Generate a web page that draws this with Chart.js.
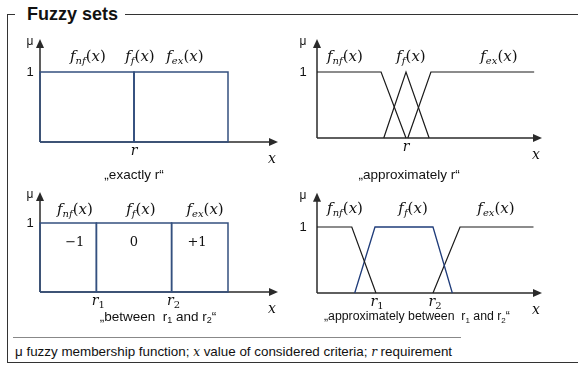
<!DOCTYPE html>
<html><head><meta charset="utf-8">
<script src="https://cdn.jsdelivr.net/npm/chart.js@4.4.1/dist/chart.umd.min.js"></script>
<style>
html,body{margin:0;padding:0;background:#fff;}
#wrap{position:relative;width:578px;height:365px;overflow:hidden;font-family:"Liberation Sans",Arial,sans-serif;color:#111;}
#frame{position:absolute;left:7px;top:14px;width:620px;height:349px;border-left:1px solid #333;border-top:1px solid #333;border-bottom:1px solid #333;box-sizing:border-box;}
#title{position:absolute;left:15px;top:3px;padding:0 7px 0 12px;background:#fff;font-weight:bold;font-size:18px;line-height:22px;color:#111;}
#sep{position:absolute;left:13px;top:337px;width:448px;height:1px;background:#888;}
#foot{position:absolute;left:15px;top:344px;font-size:13.4px;line-height:16px;white-space:nowrap;}
#foot i{font-family:"DejaVu Serif",serif;font-size:12px;}
canvas{position:absolute;}
</style></head>
<body>
<div id="wrap">
  <div id="frame"></div>
  <div id="title">Fuzzy sets</div>
  <canvas id="c1" width="280" height="156" style="left:10px;top:28px"></canvas>
  <canvas id="c2" width="285" height="156" style="left:290px;top:28px"></canvas>
  <canvas id="c3" width="280" height="148" style="left:10px;top:184px"></canvas>
  <canvas id="c4" width="285" height="148" style="left:290px;top:184px"></canvas>
  <div id="sep"></div>
  <div id="foot">μ fuzzy membership function; <i>x</i> value of considered criteria; <i>r</i> requirement</div>
</div>
<script>
// ---------- data ----------
const captions = ['„exactly r“', '„approximately r“', '„between  r_1 and r_2“', '„approximately between  r_1 and r_2“'];
const setSubscripts = ['nf', 'f', 'ex'];   // f_nf(x), f_f(x), f_ex(x)
const yTickLabel = '1';

// panel 1: exactly r
const exactNf = [[0,0],[0,1],[5,1],[5,0],[0,0]];
const exactF  = [[5,0],[5,1]];
const exactEx = [[5,0],[5,1],[10,1],[10,0],[5,0]];
const exactTicks = [5];
const exactTickLabels = [['r','']];

// panel 2: approximately r
const approxNf = [[0,1],[3.6,1],[5,0]];
const approxF  = [[3.75,0],[5,1],[6.3,0]];
const approxEx = [[5.1,0],[6.4,1],[12.2,1]];
const approxTicks = [5];
const approxTickLabels = [['r','']];

// panel 3: between r1 and r2
const betweenNf = [[0,0],[0,1],[3,1],[3,0],[0,0]];
const betweenF  = [[3,0],[3,1],[7,1],[7,0],[3,0]];
const betweenEx = [[7,0],[7,1],[10,1],[10,0],[7,0]];
const betweenTicks = [3, 7];
const betweenTickLabels = [['r','1'],['r','2']];
const betweenValues = ['−1', '0', '+1'];

// panel 4: approximately between r1 and r2
const apBetweenNf = [[0,1],[1.8,1],[3.05,0]];
const apBetweenF  = [[1.95,0],[3,1],[6,1],[7,0]];
const apBetweenEx = [[6,0],[7.4,1],[11.2,1]];
const apBetweenTicks = [3, 6];
const apBetweenTickLabels = [['r','1'],['r','2']];

// ---------- styles / layout ----------
const BLUE = '#34507f', NAVY = '#1f3c7a', BLACK = '#1a1a1a', AXIS = '#2a2a2a';
const panels = [
  {id:'c1', left:10, top:28, axisX:40, baseY:142, pxX:18.8, pxY:70, xEnd:12.66, yEnd:1.47, offX:-10,
   sets:[[exactNf,BLUE,1.5],[exactF,BLUE,1.5],[exactEx,BLUE,1.5]], ticks:exactTicks, tickLabels:exactTickLabels,
   labelX:[2.55,5.32,7.71], labelDy:-15, caption:captions[0], capX:5, capDy:33, capSize:13.5},
  {id:'c2', left:290, top:28, axisX:317, baseY:138, pxX:17.8, pxY:66, xEnd:12.64, yEnd:1.5, offX:-14,
   sets:[[approxNf,BLACK,1.2],[approxF,BLACK,1.2],[approxEx,BLACK,1.2]], ticks:approxTicks, tickLabels:approxTickLabels,
   labelX:[1.57,5.28,10.22], labelDy:-15, caption:captions[1], capX:5.17, capDy:37, capSize:13.5},
  {id:'c3', left:10, top:184, axisX:40, baseY:292, pxX:18.8, pxY:69, xEnd:12.66, yEnd:1.45, offX:-10,
   sets:[[betweenNf,BLUE,1.5],[betweenF,BLUE,1.5],[betweenEx,BLUE,1.5]], ticks:betweenTicks, tickLabels:betweenTickLabels,
   labelX:[1.86,5.37,8.78], labelDy:-13, caption:captions[2], capX:6.28, capDy:25, capSize:13.5,
   values:betweenValues, valueX:[1.85,5.0,8.35], valueY:0.72},
  {id:'c4', left:290, top:184, axisX:317, baseY:293, pxX:19.33, pxY:66, xEnd:11.64, yEnd:1.52, offX:-14,
   sets:[[apBetweenNf,BLACK,1.2],[apBetweenF,NAVY,1.3],[apBetweenEx,BLACK,1.2]], ticks:apBetweenTicks, tickLabels:apBetweenTickLabels,
   labelX:[1.45,4.97,9.26], labelDy:-18, caption:captions[3], capX:5.17, capDy:24, capSize:12.3}
];

const SERIF = '"DejaVu Serif", serif';
const SANS = '"Liberation Sans", Arial, sans-serif';

function drawRich(ctx, segs, cx, cy, align) {
  const list = segs.map(s => { ctx.font = s.font; return Object.assign({}, s, {w: ctx.measureText(s.t).width}); });
  const total = list.reduce((a, s) => a + s.w, 0);
  let x = align === 'right' ? cx - total : align === 'left' ? cx : cx - total / 2;
  ctx.textBaseline = 'middle'; ctx.textAlign = 'left';
  list.forEach(s => { ctx.font = s.font; ctx.fillStyle = s.color || '#111'; ctx.fillText(s.t, x, cy + (s.dy || 0)); x += s.w; });
}
function parseSub(str, font, subFont) {
  const parts = str.split(/_(\w)/);
  return parts.map((t, i) => i % 2 ? {t, font: subFont, dy: 4} : {t, font}).filter(s => s.t.length);
}
function fnLabel(sub) {
  return [
    {t:'f', font:'italic 15px ' + SERIF},
    {t:sub, font:'italic 10px ' + SERIF, dy:4},
    {t:'(', font:'15px ' + SERIF},
    {t:'x', font:'italic 15px ' + SERIF},
    {t:')', font:'15px ' + SERIF}
  ];
}

function diagramPlugin(p) {
  return {
    id: 'diagram' + p.id,
    beforeDatasetsDraw(chart) {
      const ctx = chart.ctx, xs = chart.scales.x, ys = chart.scales.y;
      const X0 = xs.getPixelForValue(0), Y0 = ys.getPixelForValue(0);
      const XT = xs.getPixelForValue(p.xEnd), YT = ys.getPixelForValue(p.yEnd);
      ctx.save();
      ctx.strokeStyle = AXIS; ctx.fillStyle = AXIS; ctx.lineWidth = 1.5;
      ctx.beginPath(); ctx.moveTo(X0, Y0); ctx.lineTo(X0, YT + 7); ctx.stroke();
      ctx.beginPath(); ctx.moveTo(X0, YT); ctx.lineTo(X0 - 4, YT + 9); ctx.lineTo(X0 + 4, YT + 9); ctx.closePath(); ctx.fill();
      ctx.beginPath(); ctx.moveTo(X0, Y0); ctx.lineTo(XT - 7, Y0); ctx.stroke();
      ctx.beginPath(); ctx.moveTo(XT, Y0); ctx.lineTo(XT - 9, Y0 - 4); ctx.lineTo(XT - 9, Y0 + 4); ctx.closePath(); ctx.fill();
      ctx.restore();
    },
    afterDraw(chart) {
      const ctx = chart.ctx, xs = chart.scales.x, ys = chart.scales.y;
      const X0 = xs.getPixelForValue(0), Y0 = ys.getPixelForValue(0), Y1 = ys.getPixelForValue(1);
      const XT = xs.getPixelForValue(p.xEnd), YT = ys.getPixelForValue(p.yEnd);
      ctx.save();
      drawRich(ctx, [{t:'μ', font:'12px ' + SANS}], X0 + p.offX, YT + 3);
      drawRich(ctx, [{t:yTickLabel, font:'13px ' + SANS}], X0 + p.offX, Y1);
      p.ticks.forEach((v, i) => {
        const [base, sub] = p.tickLabels[i];
        const segs = [{t:base, font:'italic 14px ' + SERIF}];
        if (sub) segs.push({t:sub, font:'10px ' + SERIF, dy:4});
        drawRich(ctx, segs, xs.getPixelForValue(v) + (sub ? 2 : 0), Y0 + 9);
      });
      drawRich(ctx, [{t:'x', font:'italic 14px ' + SERIF}], XT - 6, Y0 + 17);
      setSubscripts.forEach((s, i) => drawRich(ctx, fnLabel(s), xs.getPixelForValue(p.labelX[i]), Y1 + p.labelDy));
      if (p.values) p.values.forEach((t, i) =>
        drawRich(ctx, [{t, font:'13px ' + SERIF}], xs.getPixelForValue(p.valueX[i]), ys.getPixelForValue(p.valueY)));
      drawRich(ctx, parseSub(p.caption, p.capSize + 'px ' + SANS, Math.round(p.capSize * 0.68) + 'px ' + SANS),
        xs.getPixelForValue(p.capX), Y0 + p.capDy);
      ctx.restore();
    }
  };
}

panels.forEach(p => {
  const cv = document.getElementById(p.id);
  const w = cv.width, h = cv.height;
  const ox = p.axisX - p.left, oy = p.baseY - p.top;
  new Chart(cv, {
    type: 'scatter',
    data: { datasets: p.sets.map(([pts, color, bw], i) => ({
      label: 'f_' + setSubscripts[i],
      data: pts.map(([x, y]) => ({x, y})),
      showLine: true, borderColor: color, backgroundColor: color, borderWidth: bw,
      pointRadius: 0, fill: false, tension: 0, clip: false
    })) },
    options: {
      responsive: false, animation: false, events: [],
      layout: { padding: 0 },
      plugins: { legend: { display: false }, tooltip: { enabled: false } },
      scales: {
        x: { type: 'linear', display: false, min: -ox / p.pxX, max: (w - ox) / p.pxX },
        y: { type: 'linear', display: false, min: -(h - oy) / p.pxY, max: oy / p.pxY }
      }
    },
    plugins: [diagramPlugin(p)]
  });
});
</script>
</body></html>
